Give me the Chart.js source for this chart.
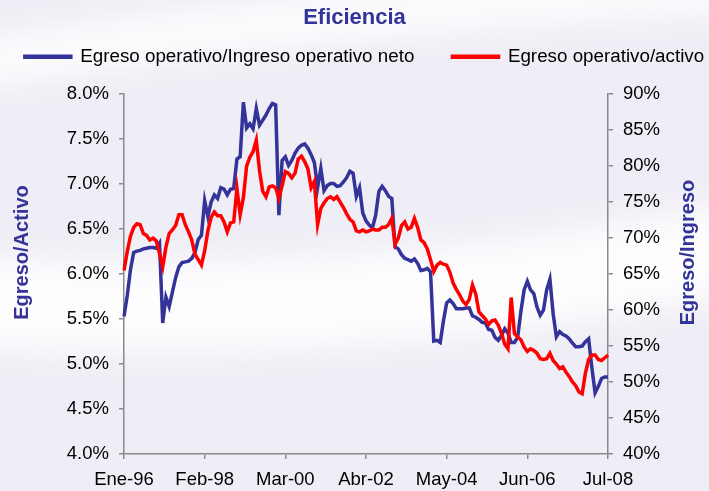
<!DOCTYPE html>
<html>
<head>
<meta charset="utf-8">
<title>Eficiencia</title>
<script src="https://cdn.jsdelivr.net/npm/chart.js@4.4.1/dist/chart.umd.min.js"></script>
<style>
    html, body { margin: 0; padding: 0; background: #efedf5; }
    canvas { display: block; }
</style>
</head>
<body>
<canvas id="chart" width="709" height="491"></canvas>
<script>
// meses Ene-96 .. Jul-08
var years = ['96', '97', '98', '99', '00', '01', '02', '03', '04', '05', '06', '07', '08'];
var meses = ['Ene', 'Feb', 'Mar', 'Abr', 'May', 'Jun', 'Jul', 'Ago', 'Sep', 'Oct', 'Nov', 'Dic'];
var tickEvery = 25; // una etiqueta cada 25 meses

// Egreso operativo / Ingreso operativo neto (%) - eje derecho
var egresoIngreso = [
    59.1, 62.0, 65.6, 68.0, 68.2, 68.3, 68.5, 68.6, 68.7, 68.7, 68.6, 69.3,
    58.2, 61.8, 60.5, 62.5, 64.5, 66.0, 66.6, 66.7, 66.8, 67.2, 68.0, 69.8,
    70.4, 75.2, 73.0, 75.0, 76.0, 75.5, 77.0, 76.8, 76.0, 76.8, 76.9, 81.0,
    81.3, 88.9, 85.3, 85.9, 85.2, 88.0, 85.7, 86.4, 87.1, 88.0, 88.7, 88.5,
    73.2, 80.8, 81.3, 80.1, 80.8, 81.8, 82.5, 82.9, 83.1, 82.5, 81.6, 80.5,
    77.0, 79.7, 76.6, 77.3, 77.6, 77.6, 77.2, 77.3, 77.8, 78.4, 79.3, 79.0,
    75.8, 77.0, 73.5, 72.4, 71.8, 71.4, 73.2, 76.5, 77.2, 76.6, 75.8, 75.5,
    68.8, 68.5, 67.7, 67.2, 67.0, 66.8, 67.1, 66.5, 65.5, 65.6, 65.8, 65.3,
    55.7, 55.8, 55.5, 58.5, 61.0, 61.4, 60.9, 60.2, 60.2, 60.2, 60.3, 60.3,
    59.2, 59.0, 58.7, 58.3, 58.2, 57.3, 57.2, 56.2, 55.8, 56.5, 57.4, 56.8,
    55.5, 55.5, 56.2, 59.8, 62.8, 64.0, 62.8, 62.3, 60.4, 59.3, 60.0, 62.8,
    64.3, 59.5, 56.3, 57.0, 56.6, 56.4, 56.0, 55.4, 54.9, 54.9, 55.0, 55.6,
    56.0, 52.0, 48.5, 49.4, 50.5, 50.7, 50.7
];

// Egreso operativo / activo (%) - eje izquierdo
var egresoActivo = [
    6.04, 6.25, 6.42, 6.52, 6.56, 6.55, 6.45, 6.43, 6.38, 6.40, 6.37, 6.23,
    6.08, 6.30, 6.45, 6.49, 6.54, 6.66, 6.66, 6.55, 6.47, 6.38, 6.22, 6.16,
    6.10, 6.26, 6.48, 6.63, 6.69, 6.65, 6.65, 6.58, 6.47, 6.57, 6.58, 6.95,
    6.66, 6.85, 7.20, 7.30, 7.36, 7.49, 7.15, 6.92, 6.86, 6.97, 6.98, 6.96,
    6.84, 6.98, 7.14, 7.12, 7.07, 7.12, 7.28, 7.31, 7.25, 7.17, 6.96, 7.03,
    6.55, 6.73, 6.79, 6.84, 6.86, 6.83, 6.86, 6.80, 6.74, 6.67, 6.61, 6.58,
    6.48, 6.47, 6.49, 6.47, 6.48, 6.50, 6.49, 6.49, 6.52, 6.52, 6.55, 6.62,
    6.33, 6.40, 6.54, 6.58, 6.50, 6.52, 6.62, 6.52, 6.38, 6.35, 6.28, 6.16,
    6.03, 6.10, 6.13, 6.11, 6.10, 6.02, 5.90, 5.83, 5.77, 5.70, 5.66, 5.72,
    5.88, 5.78, 5.58, 5.54, 5.50, 5.44, 5.48, 5.49, 5.43, 5.34, 5.22, 5.17,
    5.74, 5.34, 5.30, 5.27, 5.19, 5.14, 5.17, 5.15, 5.12, 5.06, 5.05, 5.06,
    5.12, 5.04, 5.00, 4.95, 4.97, 4.91, 4.86, 4.80, 4.76, 4.69, 4.67, 4.90,
    5.05, 5.10, 5.10, 5.05, 5.04, 5.07, 5.10
];

var labels = [];
years.forEach(function (y) {
    meses.forEach(function (m) {
        labels.push(m + '-' + y);
    });
});
labels = labels.slice(0, egresoActivo.length);

var azul = '#333399';
var rojo = '#ff0000';
var gris = '#8a8a8a';

Chart.defaults.font.family = "'Liberation Sans', Arial, sans-serif";
Chart.defaults.color = '#000';

/*
----------------------------------
     Fondo con franjas blancas
----------------------------------
*/
const fondo = {
    id: 'fondo',
    beforeDraw(chart) {
        const ctx = chart.ctx;
        ctx.save();
        ctx.fillStyle = '#efedf5';
        ctx.fillRect(0, 0, chart.width, chart.height);
        ctx.filter = 'blur(18px)';
        ctx.strokeStyle = 'rgba(255,255,255,0.9)';
        ctx.lineWidth = 90;
        ctx.beginPath();
        ctx.moveTo(-60, 300);
        ctx.quadraticCurveTo(350, 330, 780, 240);
        ctx.stroke();
        ctx.lineWidth = 45;
        ctx.beginPath();
        ctx.moveTo(-60, 70);
        ctx.quadraticCurveTo(300, 10, 780, -15);
        ctx.stroke();
        ctx.restore();
    }
};

// titulos verticales de ambos ejes (leen de abajo hacia arriba)
const titulosEjes = {
    id: 'titulosEjes',
    afterDraw(chart) {
        const ctx = chart.ctx;
        const area = chart.chartArea;
        const yc = area.top + (area.bottom - area.top) * 0.44;
        ctx.save();
        ctx.font = "bold 20px 'Liberation Sans', Arial, sans-serif";
        ctx.fillStyle = azul;
        ctx.textAlign = 'center';
        ctx.textBaseline = 'middle';
        [[area.left - 102, 'Egreso/Activo'], [area.right + 80, 'Egreso/Ingreso']].forEach(function (t) {
            ctx.save();
            ctx.translate(t[0], yc);
            ctx.rotate(-Math.PI / 2);
            ctx.fillText(t[1], 0, 0);
            ctx.restore();
        });
        ctx.restore();
    }
};

const legendMargin = {
    id: 'legendMargin',
    beforeInit(chart) {
        const fitValue = chart.legend.fit;

        chart.legend.fit = function fit() {
            fitValue.bind(chart.legend)();
            return this.height += 18;
        }
    },
    afterLayout(chart) {
        chart.legend.left += 10;
        chart.legend.right += 10;
    }
};

const axisGrid = {
    display: true,
    drawOnChartArea: false,
    drawTicks: true,
    tickLength: 5,
    color: gris,
    lineWidth: 1.5
};

new Chart(document.getElementById('chart'), {
    type: 'line',
    data: {
        labels: labels,
        datasets: [{
            label: 'Egreso operativo/Ingreso operativo neto',
            data: egresoIngreso,
            yAxisID: 'y1',
            borderColor: azul,
            backgroundColor: azul,
            borderWidth: 3.5,
            pointRadius: 0,
            tension: 0,
            order: 2
        }, {
            label: 'Egreso operativo/activo',
            data: egresoActivo,
            yAxisID: 'y',
            borderColor: rojo,
            backgroundColor: rojo,
            borderWidth: 3.5,
            pointRadius: 0,
            tension: 0,
            order: 1
        }]
    },
    options: {
        responsive: false,
        animation: false,
        devicePixelRatio: 1,
        layout: { padding: 0 },
        scales: {
            x: {
                offset: false,
                grid: axisGrid,
                border: { display: true, color: gris, width: 1.5 },
                ticks: {
                    autoSkip: false,
                    minRotation: 0,
                    maxRotation: 0,
                    padding: 10,
                    font: { size: 18.5 },
                    callback: function (value, index) {
                        return index % tickEvery == 0 ? this.getLabelForValue(value) : null;
                    }
                },
                afterFit(scale) { scale.height = 37; }
            },
            y: {
                position: 'left',
                min: 4,
                max: 8,
                grid: axisGrid,
                border: { display: true, color: gris, width: 1.5 },
                ticks: {
                    stepSize: 0.5,
                    padding: 10,
                    font: { size: 18.5 },
                    callback: v => v.toFixed(1) + '%'
                },
                afterFit(scale) { scale.width = 124; }
            },
            y1: {
                position: 'right',
                min: 40,
                max: 90,
                grid: axisGrid,
                border: { display: true, color: gris, width: 1.5 },
                ticks: {
                    stepSize: 5,
                    padding: 10,
                    font: { size: 18.5 },
                    callback: v => v + '%'
                },
                afterFit(scale) { scale.width = 101; }
            }
        },
        plugins: {
            title: {
                display: true,
                text: 'Eficiencia',
                color: azul,
                font: { size: 22, weight: 'bold' },
                padding: { top: 5, bottom: 6 }
            },
            legend: {
                position: 'top',
                labels: {
                    boxWidth: 46,
                    boxHeight: 1,
                    padding: 10,
                    color: '#000',
                    font: { size: 18.8 },
                    sort: (a, b) => a.datasetIndex - b.datasetIndex,
                    generateLabels(chart) {
                        const items = Chart.defaults.plugins.legend.labels.generateLabels(chart);
                        items.forEach(it => {
                            if (it.datasetIndex === 0) it.text += '\u2002\u2002\u2002';
                        });
                        return items;
                    }
                }
            },
            tooltip: { enabled: false }
        }
    },
    plugins: [fondo, titulosEjes, legendMargin]
});
</script>
</body>
</html>
